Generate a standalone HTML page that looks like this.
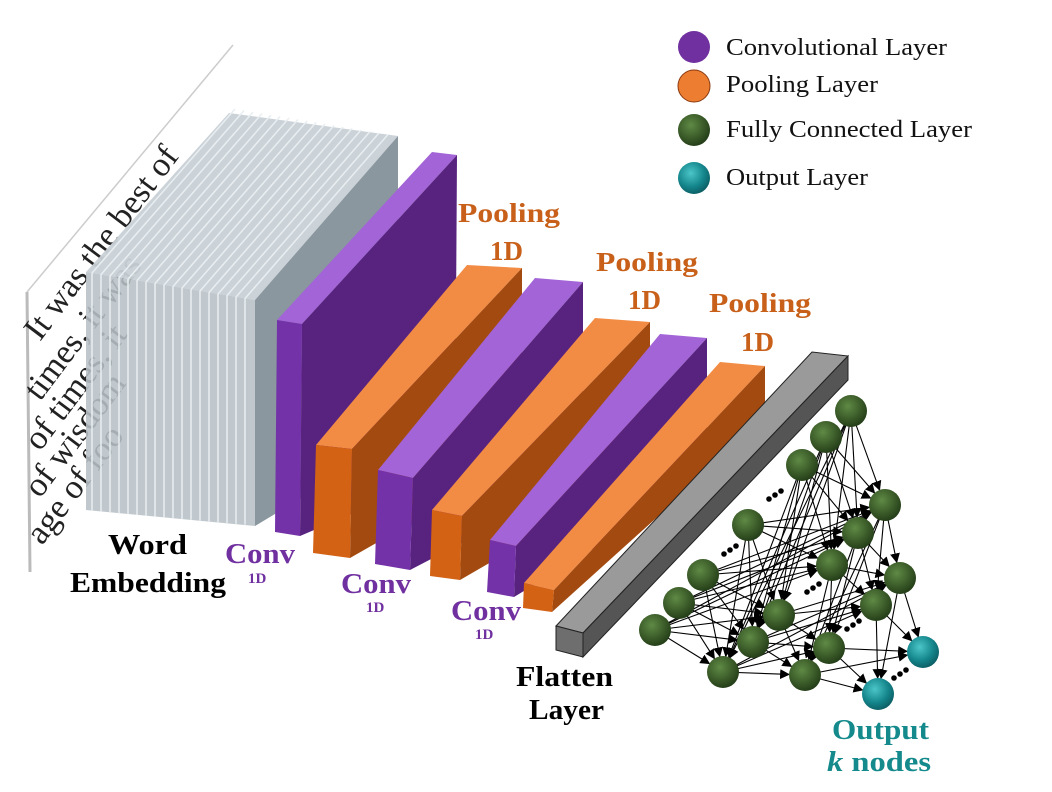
<!DOCTYPE html>
<html><head><meta charset="utf-8"><style>
html,body{margin:0;padding:0;background:#fff;}
svg{display:block;}
.lg{font-family:"Liberation Serif",serif;font-size:24px;fill:#111;}
.b{font-family:"Liberation Serif",serif;font-weight:bold;}
</style></head><body>
<svg id="s" width="1052" height="792" viewBox="0 0 1052 792" xmlns="http://www.w3.org/2000/svg">
<defs>
<radialGradient id="gg" cx="0.4" cy="0.35" r="0.7"><stop offset="0" stop-color="#5f8a45"/><stop offset="0.6" stop-color="#3a5a28"/><stop offset="1" stop-color="#213a16"/></radialGradient>
<radialGradient id="tg" cx="0.4" cy="0.35" r="0.7"><stop offset="0" stop-color="#4cc6c8"/><stop offset="0.6" stop-color="#14868c"/><stop offset="1" stop-color="#0b5a60"/></radialGradient>
<marker id="ar" viewBox="0 0 10 10" refX="10" refY="5" markerWidth="9" markerHeight="9" orient="auto"><path d="M0,0L10,5L0,10z" fill="#000"/></marker>
</defs>
<!-- paper -->
<polygon points="27,292 233,45 233,320 30,572" fill="#fff"/>
<line x1="27" y1="292" x2="233" y2="45" stroke="#ccc" stroke-width="1.5"/>
<line x1="27" y1="292" x2="30" y2="572" stroke="#bbb" stroke-width="3"/>
<g font-family="Liberation Serif,serif" font-size="34" fill="#222">
<text transform="translate(40,342) rotate(-53)">It was the best of</text>
<text transform="translate(40,402) rotate(-53)">times, it was</text>
<text transform="translate(40,452) rotate(-53)">of times, it</text>
<text transform="translate(40,499) rotate(-53)">of wisdom</text>
<text transform="translate(42,546) rotate(-53)">age of foo</text>
</g>
<!-- embedding block -->
<polygon points="86,272 229,113 398,136 255,300" fill="#c9d1d6" opacity="0.95"/>
<polygon points="255,300 398,136 398,440 255,526" fill="#8a979f"/>
<polygon points="86,272 255,300 255,526 86,510" fill="#b7c0c6" opacity="0.88"/>
<g id="slabs" stroke="#e8eef1" stroke-width="1.5"></g>
<!-- conv1 -->
<polygon points="277,320 432,152 457,155 302,324" fill="#a264d6"/>
<polygon points="302,324 457,155 455,470 300,536" fill="#57237e"/>
<polygon points="277,320 302,324 300,536 275,532" fill="#7432a8"/>
<!-- pool1 -->
<polygon points="316,445 467,265 522,268 352,449" fill="#f28c45"/>
<polygon points="352,449 522,268 522,460 350,558" fill="#a34a10"/>
<polygon points="316,445 352,449 350,558 313,553" fill="#d36214"/>
<!-- conv2 -->
<polygon points="378,470 535,278 583,282 413,478" fill="#a264d6"/>
<polygon points="413,478 583,282 583,480 410,570" fill="#57237e"/>
<polygon points="378,470 413,478 410,570 375,564" fill="#7432a8"/>
<!-- pool2 -->
<polygon points="432,510 595,318 650,322 462,516" fill="#f28c45"/>
<polygon points="462,516 650,322 650,470 460,580" fill="#a34a10"/>
<polygon points="432,510 462,516 460,580 430,576" fill="#d36214"/>
<!-- conv3 -->
<polygon points="490,540 660,334 707,338 516,546" fill="#a264d6"/>
<polygon points="516,546 707,338 707,480 514,597" fill="#57237e"/>
<polygon points="490,540 516,546 514,597 487,592" fill="#7432a8"/>
<!-- pool3 -->
<polygon points="524,583 720,362 765,366 554,590" fill="#f28c45"/>
<polygon points="554,590 765,366 765,420 552,612" fill="#a34a10"/>
<polygon points="524,583 554,590 552,612 523,608" fill="#d36214"/>
<!-- flatten -->
<polygon points="556,626 812,352 848,356 583,633" fill="#9a9a9a" stroke="#222" stroke-width="1"/>
<polygon points="583,633 848,356 848,380 583,657" fill="#555" stroke="#222" stroke-width="1"/>
<polygon points="556,626 583,633 583,657 556,650" fill="#6e6e6e" stroke="#222" stroke-width="1"/>
<g id="net"></g>
<!-- legend -->
<circle cx="694" cy="47" r="16" fill="#7030a0"/>
<circle cx="694" cy="86" r="16" fill="#ed7d31" stroke="#8a3a10" stroke-width="1"/>
<circle cx="694" cy="130" r="16" fill="url(#gg)"/>
<circle cx="694" cy="178" r="16" fill="url(#tg)"/>
<text class="lg" x="726" y="55" textLength="221" lengthAdjust="spacingAndGlyphs">Convolutional Layer</text>
<text class="lg" x="726" y="92" textLength="152" lengthAdjust="spacingAndGlyphs">Pooling Layer</text>
<text class="lg" x="726" y="137" textLength="246" lengthAdjust="spacingAndGlyphs">Fully Connected Layer</text>
<text class="lg" x="726" y="185" textLength="142" lengthAdjust="spacingAndGlyphs">Output Layer</text>
<!-- labels -->
<g class="b" font-size="27" fill="#c8601a">
<text x="458" y="222" textLength="102" lengthAdjust="spacingAndGlyphs">Pooling</text><text x="490" y="260">1D</text>
<text x="596" y="271" textLength="102" lengthAdjust="spacingAndGlyphs">Pooling</text><text x="628" y="309">1D</text>
<text x="709" y="312" textLength="102" lengthAdjust="spacingAndGlyphs">Pooling</text><text x="741" y="351">1D</text>
</g>
<g class="b" font-size="28" fill="#000">
<text x="108" y="554" textLength="79" lengthAdjust="spacingAndGlyphs">Word</text>
<text x="70" y="592" textLength="156" lengthAdjust="spacingAndGlyphs">Embedding</text>
<text x="516" y="686" textLength="97" lengthAdjust="spacingAndGlyphs">Flatten</text>
<text x="529" y="719" textLength="75" lengthAdjust="spacingAndGlyphs">Layer</text>
</g>
<g class="b" fill="#7030a0">
<text x="225" y="563" font-size="28" textLength="70" lengthAdjust="spacingAndGlyphs">Conv</text><text x="248" y="583" font-size="15">1D</text>
<text x="341" y="593" font-size="28" textLength="70" lengthAdjust="spacingAndGlyphs">Conv</text><text x="366" y="612" font-size="15">1D</text>
<text x="451" y="620" font-size="28" textLength="70" lengthAdjust="spacingAndGlyphs">Conv</text><text x="475" y="639" font-size="15">1D</text>
</g>
<g class="b" font-size="28" fill="#158a8c">
<text x="832" y="739" textLength="97" lengthAdjust="spacingAndGlyphs">Output</text>
<text x="827" y="771" textLength="104" lengthAdjust="spacingAndGlyphs"><tspan font-style="italic">k</tspan> nodes</text>
</g>
</svg>
<script>
var NS="http://www.w3.org/2000/svg";
function el(p,t,a){var e=document.createElementNS(NS,t);for(var k in a)e.setAttribute(k,a[k]);p.appendChild(e);return e;}
var sl=document.getElementById('slabs');
for(var i=0;i<18;i++){var x=92+i*9;el(sl,'line',{x1:x,y1:273+i*1.5,x2:x,y2:511+i*0.8});el(sl,'line',{x1:x,y1:273+i*1.5,x2:x+143,y2:109+i*1.5});}
var L=[[[851,411],[826,437],[802,465],[748,525],[703,575],[679,603],[655,630]],
[[885,505],[858,533],[832,565],[779,615],[753,642],[723,672]],
[[900,578],[876,605],[829,648],[805,675]],
[[923,652],[878,694]]];
var net=document.getElementById('net');
for(var l=0;l<3;l++)for(var a=0;a<L[l].length;a++)for(var b=0;b<L[l+1].length;b++){
var p=L[l][a],q=L[l+1][b],dx=q[0]-p[0],dy=q[1]-p[1],d=Math.sqrt(dx*dx+dy*dy);
el(net,'line',{x1:p[0],y1:p[1],x2:q[0]-dx/d*15,y2:q[1]-dy/d*15,stroke:'#000','stroke-width':1.1,'marker-end':'url(#ar)'});}
for(var l=0;l<4;l++)for(var a=0;a<L[l].length;a++)el(net,'circle',{cx:L[l][a][0],cy:L[l][a][1],r:16,fill:l==3?'url(#tg)':'url(#gg)'});
var dots=[[775,495],[730,550],[813,588],[853,625],[900,674]];
dots.forEach(function(d){for(var k=-1;k<=1;k++)el(net,'circle',{cx:d[0]+k*6,cy:d[1]-k*4,r:2.8,fill:'#000'});});
</script>
</body></html>
